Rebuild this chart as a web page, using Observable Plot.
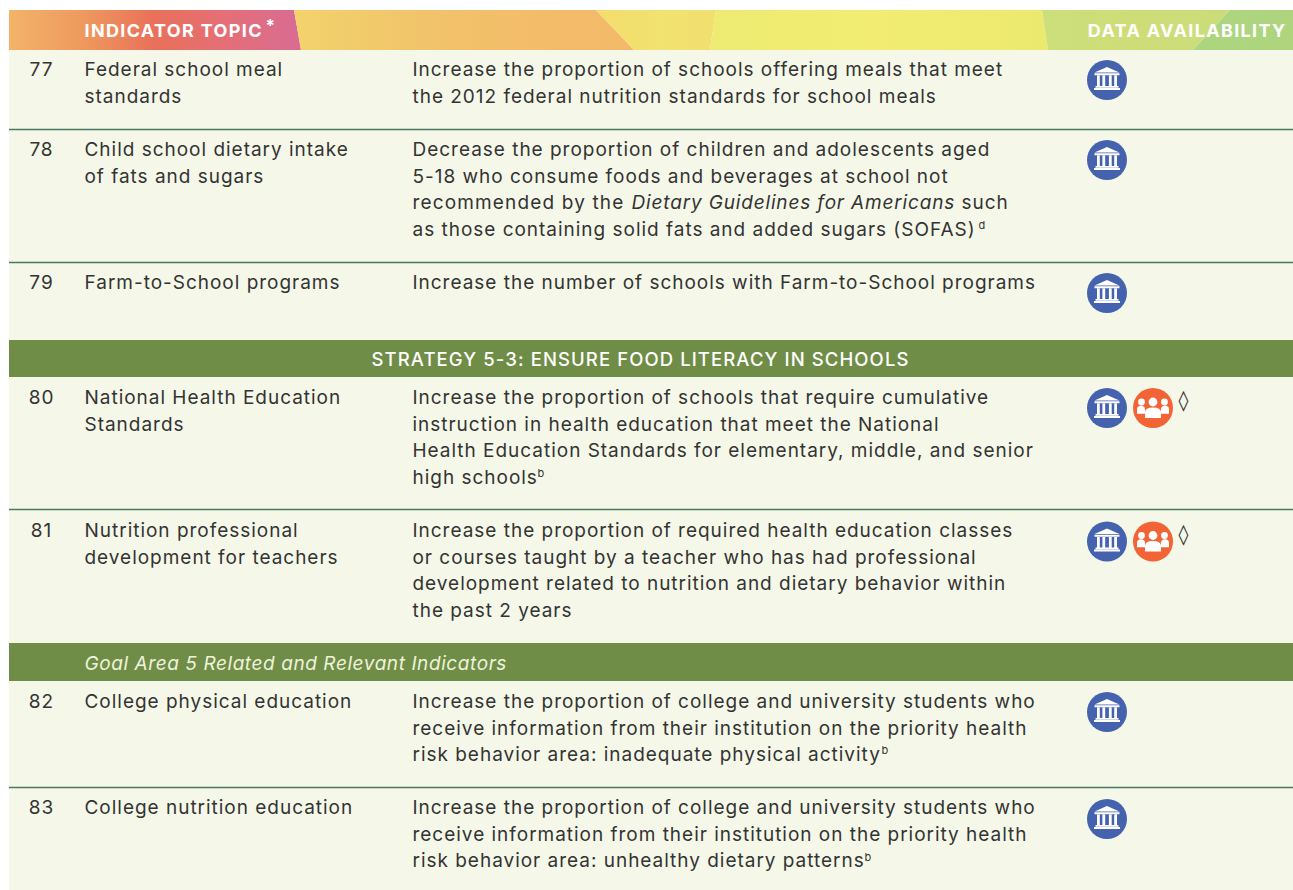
<!DOCTYPE html>
<html><head><meta charset="utf-8">
<script src="https://cdn.jsdelivr.net/npm/d3@7"></script>
<script src="https://cdn.jsdelivr.net/npm/@observablehq/plot@0.6"></script>
<style>html,body{margin:0;padding:0;background:#fff}svg{display:block}
text[aria-label="body"]{letter-spacing:.98px}
text[aria-label="header"]{letter-spacing:1.34px}
text[aria-label="strategy"]{letter-spacing:1.09px}
text[aria-label="goal"]{letter-spacing:.58px}
text[aria-label="tight"]{letter-spacing:1.15px}
text[aria-label="italic"]{letter-spacing:.84px}
</style>
</head><body><div id="chart"></div>
<script>
const FONT = "Inter, 'Noto Sans', sans-serif";
const rowNumbers = ["77","78","79","80","81","82","83"];
const rowY = [69.5,149.5,282.5,397.5,530.5,701.5,807.5];
const rowRules = [129,262,509,787];
const numberX = [41,41,41,41,41,41,41];
const topics = [
 ["Federal school meal","standards"],
 ["Child school dietary intake","of fats and sugars"],
 ["Farm-to-School programs"],
 ["National Health Education","Standards"],
 ["Nutrition professional","development for teachers"],
 ["College physical education"],
 ["College nutrition education"]
];
const indicators = [
 ["Increase the proportion of schools offering meals that meet","the 2012 federal nutrition standards for school meals"],
 ["Decrease the proportion of children and adolescents aged","5-18 who consume foods and beverages at school not","","as those containing solid fats and added sugars (SOFAS)"],
 ["Increase the number of schools with Farm-to-School programs"],
 ["Increase the proportion of schools that require cumulative","instruction in health education that meet the National","Health Education Standards for elementary, middle, and senior","high schools"],
 ["Increase the proportion of required health education classes","or courses taught by a teacher who has had professional","development related to nutrition and dietary behavior within","the past 2 years"],
 ["Increase the proportion of college and university students who","receive information from their institution on the priority health","risk behavior area: inadequate physical activity"],
 ["Increase the proportion of college and university students who","receive information from their institution on the priority health","risk behavior area: unhealthy dietary patterns"]
];
const linePitch = 26.6;
const superscripts = [{t:"d",x:978,y:225},{t:"b",x:537,y:473},{t:"b",x:881,y:750},{t:"b",x:864,y:857}];
const lineFragments = [
 {t:"recommended by the",x:412,y:202.7,kind:"tight",style:"normal"},
 {t:"Dietary Guidelines for Americans",x:631,y:202.7,kind:"italic",style:"italic"},
 {t:"such",x:961,y:202.7,kind:"body",style:"normal"}
];
const bands = [{y1:340,y2:377},{y1:643,y2:681}];
const bandTitle = "STRATEGY 5-3: ENSURE FOOD LITERACY IN SCHOOLS";
const goalTitle = "Goal Area 5 Related and Relevant Indicators";
const govIcons = [79.5,159.5,292.5,407.5,541,711.5,818.5];
const peopleIcons = [407.5,541];
const diamonds = [400,534];
const facets = [
 {id:"g1",top:[9,294],bot:[9,301],stops:["#f3b36a","#ee9a5e","#e9705a","#e46f78","#d96b93"]},
 {id:"g2",top:[294,596],bot:[301,634],stops:["#f3d36c","#f1c56a","#f3bd69","#f3b96a"]},
 {id:"g3",top:[596,716],bot:[634,710],stops:["#f3dc6d","#f2e26f","#f1e06f"]},
 {id:"g4",top:[716,1042],bot:[710,1048],stops:["#eeeb72","#f2ed72","#ece96f"]},
 {id:"g5",top:[1042,1230],bot:[1048,1193],stops:["#cbdf7a","#cfdd78","#cadd7a"]},
 {id:"g6",top:[1230,1293],bot:[1193,1293],stops:["#add57f","#aed57e"]}
];
const facetY = [10,50];

const flat = (f)=>rowNumbers.flatMap((_,i)=>f[i].map((t,j)=>({t,y:rowY[i]+j*linePitch}))).filter(d=>d.t);

const bank = {draw(c,size){
  const r=Math.sqrt(size/Math.PI), u=r/20;
  const R=(x,y,w,h)=>{c.moveTo(x*u,y*u);c.lineTo((x+w)*u,y*u);c.lineTo((x+w)*u,(y+h)*u);c.lineTo(x*u,(y+h)*u);c.closePath();};
  c.moveTo(0,-13*u);c.lineTo(12.5*u,-7.5*u);c.lineTo(-12.5*u,-7.5*u);c.closePath();
  R(-12.5,-6.8,25,2);
  [-10,-4.6,1.9,7.2].forEach(x=>R(x,-4.5,2.8,10.5));
  R(-11.5,6,23,1.8);R(-13,8,26,2);
}};
const people = {draw(c,size){
  const r=Math.sqrt(size/Math.PI), u=r/20;
  const C=(x,y,a)=>{c.moveTo((x+a)*u,y*u);c.arc(x*u,y*u,a*u,0,2*Math.PI);c.closePath();};
  const B=(x,y,w,h)=>{c.moveTo((x-w)*u,(y+h)*u);c.lineTo((x-w)*u,(y+h*.45)*u);c.quadraticCurveTo((x-w)*u,y*u,x*u,y*u);c.quadraticCurveTo((x+w)*u,y*u,(x+w)*u,(y+h*.45)*u);c.lineTo((x+w)*u,(y+h)*u);c.closePath();};
  C(-11.5,-6,3.4);C(11.5,-6,3.4);C(0,-6,4.4);
  B(-12,-2.2,4,8);B(12,-2.2,4,8);B(0,-0.5,8,10.5);
}};

const textOpts = {fontFamily:FONT,fontSize:19,fill:"#333333",textAnchor:"start",lineAnchor:"middle"};
const body = {...textOpts,ariaLabel:()=>"body"};
const defs = () => {
  const d = d3.create("svg:defs");
  facets.forEach(f=>{
    const g=d.append("linearGradient").attr("id",f.id);
    f.stops.forEach((s,i)=>g.append("stop").attr("offset",i/(f.stops.length-1)).attr("stop-color",s));
  });
  return d.node();
};
const chart = Plot.plot({
  width:1293,height:890,margin:0,
  x:{domain:[0,1293],range:[0,1293],axis:null},
  y:{domain:[0,890],range:[0,890],axis:null},
  style:{background:"#fff",fontFamily:FONT},
  marks:[
    defs,
    Plot.rect([0],{x1:9,x2:1293,y1:50,y2:890,fill:"#f5f8e8"}),
    ...facets.map(f=>Plot.areaX([{a:f.top[0],b:f.top[1],y:facetY[0]},{a:f.bot[0],b:f.bot[1],y:facetY[1]}],{x1:"a",x2:"b",y:"y",fill:`url(#${f.id})`})),
    Plot.ruleY(rowRules,{x1:9,x2:1293,stroke:"#4a7a60",strokeWidth:1.3}),
    Plot.rect(bands,{x1:9,x2:1293,y1:"y1",y2:"y2",fill:"#6f8d46"}),
    Plot.text(["INDICATOR TOPIC"],{x:84,y:30.5,text:d=>d,...textOpts,ariaLabel:()=>"header",fontSize:18,fontWeight:700,fill:"#fff"}),
    Plot.text(["*"],{x:265,y:26,text:d=>d,...textOpts,fontSize:17,fontWeight:700,fill:"#fff"}),
    Plot.text(["DATA AVAILABILITY"],{x:1286,y:30.5,text:d=>d,...textOpts,ariaLabel:()=>"header",textAnchor:"end",fontSize:18,fontWeight:700,fill:"#fff"}),
    Plot.text([bandTitle],{x:640,y:359.5,text:d=>d,...textOpts,ariaLabel:()=>"strategy",textAnchor:"middle",fontSize:18.5,fontWeight:500,fill:"#fff"}),
    Plot.text([goalTitle],{x:84,y:663.5,text:d=>d,...textOpts,ariaLabel:()=>"goal",fontStyle:"italic",fill:"#eef3dc"}),
    Plot.text(rowNumbers,{x:numberX,y:rowY,text:d=>d,...body,textAnchor:"middle"}),
    Plot.text(flat(topics),{x:84,y:"y",text:"t",...body}),
    Plot.text(flat(indicators),{x:412,y:"y",text:"t",...body}),
    ...lineFragments.map(f=>Plot.text([f],{x:"x",y:"y",text:"t",...textOpts,ariaLabel:d=>d.kind,fontStyle:f.style})),
    Plot.text(superscripts,{x:"x",y:"y",text:"t",...textOpts,fontSize:11}),
    Plot.dot(govIcons,{x:1106.5,y:d=>d,r:20,fill:"#4462ae"}),
    Plot.dot(peopleIcons,{x:1152.5,y:d=>d,r:20,fill:"#f26336"}),
    Plot.dot(govIcons,{x:1106.5,y:d=>d,r:20,symbol:bank,fill:"#fff",stroke:"none"}),
    Plot.dot(peopleIcons,{x:1152.5,y:d=>d,r:20,symbol:people,fill:"#fff",stroke:"none"}),
    Plot.text(diamonds,{x:1183,y:d=>d,text:()=>"◊",...textOpts,textAnchor:"middle",fontSize:20,fontFamily:"DejaVu Sans"})
  ]
});
document.getElementById("chart").append(chart);
</script></body></html>
